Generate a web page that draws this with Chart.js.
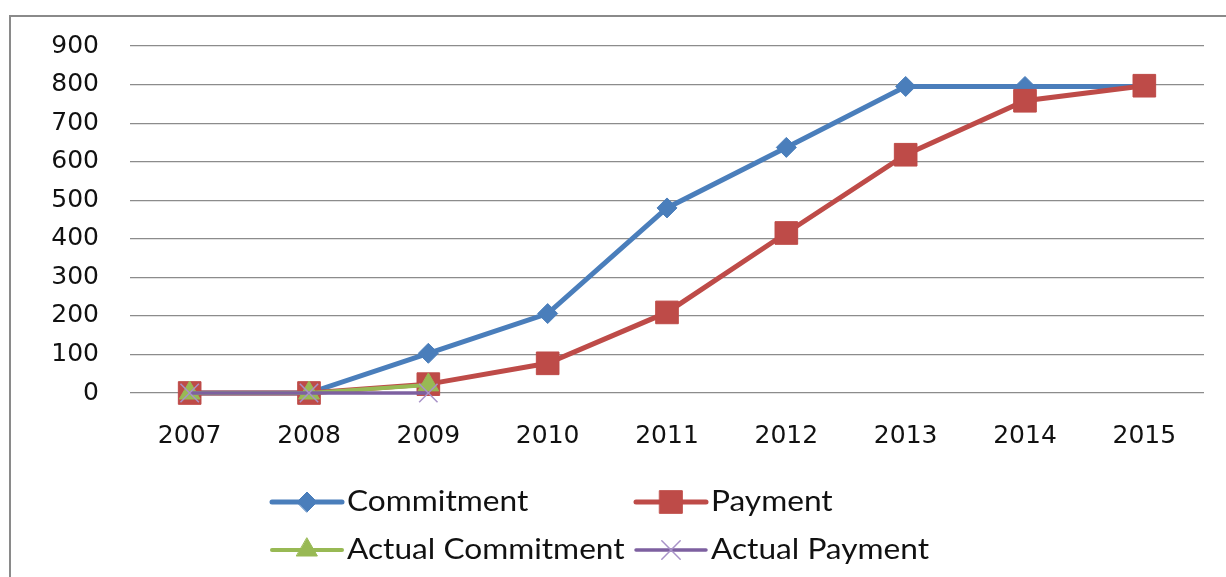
<!DOCTYPE html>
<html>
<head>
<meta charset="utf-8">
<script src="https://cdn.jsdelivr.net/npm/chart.js@4/dist/chart.umd.min.js"></script>
<style>
html,body{margin:0;padding:0;background:#fff;}
#wrap{width:1226px;height:577px;position:relative;}
</style>
</head>
<body>
<div id="wrap"><canvas id="c" width="1226" height="577"></canvas></div>
<script>
const years = ['2007','2008','2009','2010','2011','2012','2013','2014','2015'];
const commitment = [0, 0, 103, 206, 480, 637, 795, 795, 795];
const payment = [0, 0, 23, 77, 209, 415, 618, 758, 797];
const actualCommitment = [0, 0, 21, null, null, null, null, null, null];
const actualPayment = [0, 0, 0, null, null, null, null, null, null];
const yTicks = [0, 100, 200, 300, 400, 500, 600, 700, 800, 900];

const frame = {
  id: 'frame',
  beforeDraw(chart) {
    const ctx = chart.ctx;
    ctx.save();
    ctx.strokeStyle = '#8a8a8a';
    ctx.lineWidth = 2;
    ctx.strokeRect(10, 16, 1240, 600);
    ctx.restore();
  }
};

const legend4 = {
  id: 'legend4',
  afterDraw(chart) {
    const ctx = chart.ctx;
    const pos = [[272, 502], [636, 502], [272, 550], [636, 550]];
    chart.data.datasets.forEach((ds, i) => {
      const [x, y] = pos[i];
      ctx.save();
      ctx.strokeStyle = ds.borderColor;
      ctx.lineWidth = ds.borderWidth;
      ctx.lineCap = 'round';
      ctx.beginPath();
      ctx.moveTo(x, y);
      ctx.lineTo(x + 70, y);
      ctx.stroke();
      ctx.fillStyle = ds.pointBackgroundColor;
      ctx.strokeStyle = ds.pointBorderColor;
      ctx.lineWidth = ds.pointBorderWidth;
      Chart.helpers.drawPoint(ctx, {
        pointStyle: ds.pointStyle,
        radius: ds.pointRadius,
        rotation: 0,
        borderWidth: ds.pointBorderWidth
      }, x + 35, y);
      ctx.translate(x + 75, y);
      ctx.scale(1.13, 1);
      ctx.fillStyle = '#111';
      ctx.font = '28px Lato';
      ctx.textBaseline = 'middle';
      ctx.textAlign = 'left';
      ctx.fillText(ds.label, 0, 0);
      ctx.restore();
    });
  }
};

new Chart(document.getElementById('c'), {
  type: 'line',
  data: {
    labels: years,
    datasets: [
      { label: 'Commitment', data: commitment, borderColor: '#4a7ebb', borderWidth: 5,
        pointStyle: 'rectRot', pointRadius: 10, clip: false,
        pointBackgroundColor: '#4a7ebb', pointBorderColor: '#4a7ebb', pointBorderWidth: 1, order: 4 },
      { label: 'Payment', data: payment, borderColor: '#be4b48', borderWidth: 5,
        pointStyle: 'rect', pointRadius: 16, clip: false,
        pointBackgroundColor: '#be4b48', pointBorderColor: '#be4b48', pointBorderWidth: 1, order: 3 },
      { label: 'Actual Commitment', data: actualCommitment, borderColor: '#98b954', borderWidth: 4,
        pointStyle: 'triangle', pointRadius: 12, clip: false,
        pointBackgroundColor: '#98b954', pointBorderColor: '#98b954', pointBorderWidth: 1, order: 2 },
      { label: 'Actual Payment', data: actualPayment, borderColor: '#7d60a0', borderWidth: 3.5,
        pointStyle: 'crossRot', pointRadius: 13, clip: false,
        pointBackgroundColor: '#a892c8', pointBorderColor: '#a892c8', pointBorderWidth: 1.5, order: 1 }
    ]
  },
  options: {
    responsive: false,
    animation: false,
    spanGaps: false,
    layout: { padding: { left: 0, right: 22, top: 44, bottom: 0 } },
    plugins: { legend: { display: false }, tooltip: { enabled: false } },
    scales: {
      x: {
        offset: true,
        grid: { display: false, drawTicks: false },
        border: { display: false },
        ticks: { color: '#111', font: { family: 'DejaVu Sans', size: 25 }, padding: 28, maxRotation: 0 },
        afterFit(scale) { scale.height = 184; }
      },
      y: {
        min: 0, max: 900,
        afterBuildTicks(scale) { scale.ticks = yTicks.map(v => ({ value: v })); },
        grid: { color: '#8c8c8c', lineWidth: 1.2, drawTicks: false },
        border: { display: false },
        ticks: { color: '#111', font: { family: 'DejaVu Sans', size: 25 }, padding: 31 },
        afterFit(scale) { scale.width = 130; }
      }
    }
  },
  plugins: [frame, legend4]
});
</script>
</body>
</html>
